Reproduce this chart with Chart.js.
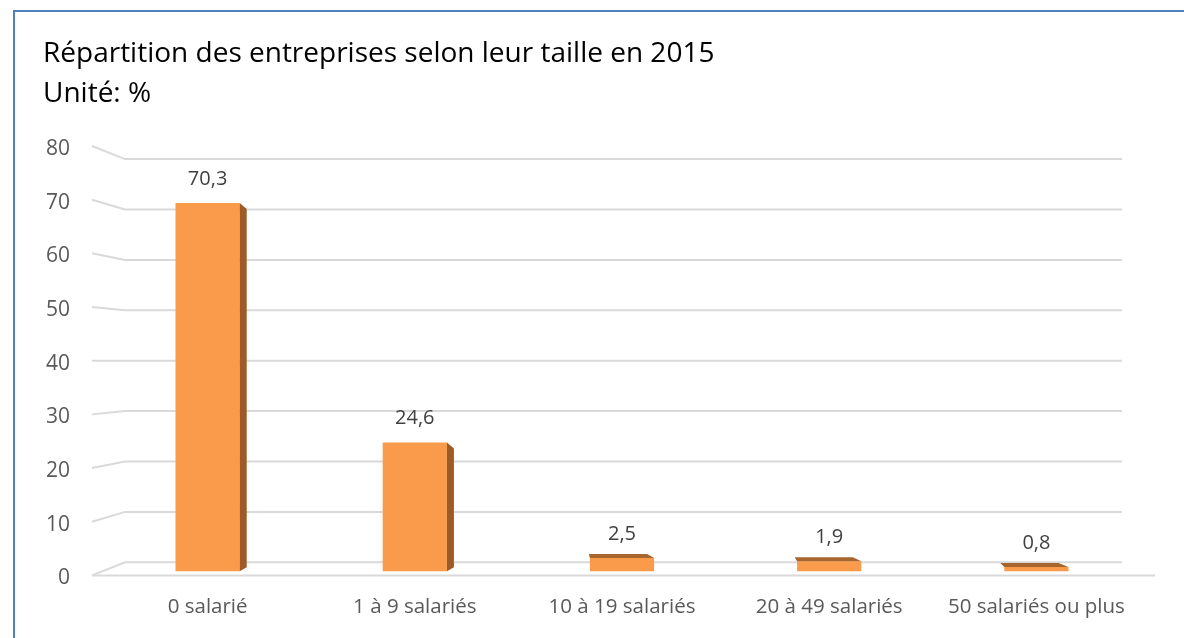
<!DOCTYPE html>
<html>
<head>
<meta charset="utf-8">
<script src="https://cdn.jsdelivr.net/npm/chart.js@4/dist/chart.umd.min.js"></script>
<style>
  html, body { margin: 0; padding: 0; background: #fff; }
  #wrap { position: relative; width: 1184px; height: 638px; overflow: hidden; }
  #frame { position: absolute; left: 13px; top: 10px; width: 1300px; height: 800px; border: 2px solid #4F81BD; box-sizing: border-box; }
  canvas { position: absolute; left: 0; top: 0; }
</style>
</head>
<body>
<div id="wrap">
  <div id="frame"></div>
  <canvas id="c" width="1184" height="638"></canvas>
</div>
<script>
const titleLines = ['Répartition des entreprises selon leur taille en 2015', 'Unité: %'];
const categories = ['0 salarié', '1 à 9 salariés', '10 à 19 salariés', '20 à 49 salariés', '50 salariés ou plus'];
const values = [70.3, 24.6, 2.5, 1.9, 0.8];
const yTicks = [0, 10, 20, 30, 40, 50, 60, 70, 80];

const FONT = "'Open Sans', 'Noto Sans', sans-serif";

const threeD = {
  id: 'threeD',
  beforeDatasetsDraw(chart) {
    const ctx = chart.ctx, y = chart.scales.y, a = chart.chartArea;
    const eye = y.getPixelForValue(40);
    const k = 0.939;
    ctx.save();
    ctx.strokeStyle = '#D9D9D9';
    ctx.lineWidth = 2;
    yTicks.forEach(v => {
      const front = y.getPixelForValue(v);
      const back = eye + (front - eye) * k;
      ctx.beginPath();
      ctx.moveTo(a.left - 12, front);
      ctx.lineTo(a.left + 21, back);
      ctx.lineTo(a.right - 18, back);
      ctx.stroke();
    });
    const p0 = y.getPixelForValue(0);
    ctx.beginPath();
    ctx.moveTo(a.left - 12, p0);
    ctx.lineTo(a.right + 15, p0);
    ctx.stroke();
    ctx.restore();
  },
  afterDatasetsDraw(chart) {
    const ctx = chart.ctx, meta = chart.getDatasetMeta(0);
    ctx.save();
    meta.data.forEach((bar, i) => {
      const half = bar.width / 2;
      const l = bar.x - half, r = bar.x + half, t = bar.y, b = bar.base;
      if (values[i] > 10) {
        ctx.fillStyle = '#9C5B27';
        ctx.beginPath();
        ctx.moveTo(r, t);
        ctx.lineTo(r + 7, t + 6);
        ctx.lineTo(r + 7, b - 4);
        ctx.lineTo(r, b);
        ctx.closePath();
        ctx.fill();
      } else {
        ctx.fillStyle = '#A8652E';
        ctx.beginPath();
        ctx.moveTo(l, t);
        ctx.lineTo(l + 2 - i * 1.5, t - 4);
        ctx.lineTo(r - 4 - i * 1.5, t - 4);
        ctx.lineTo(r, t);
        ctx.closePath();
        ctx.fill();
      }
      ctx.fillStyle = '#404040';
      ctx.font = '20px ' + FONT;
      ctx.textAlign = 'center';
      ctx.textBaseline = 'middle';
      ctx.fillText(values[i].toString().replace('.', ','), bar.x, t - 24);
    });
    ctx.restore();
  }
};

new Chart(document.getElementById('c'), {
  type: 'bar',
  data: {
    labels: categories,
    datasets: [{
      data: values,
      yAxisID: 'yBar',
      backgroundColor: '#FA9B4B',
      borderWidth: 0,
      categoryPercentage: 1,
      barPercentage: 0.31
    }]
  },
  options: {
    responsive: false,
    animation: false,
    devicePixelRatio: 1,
    layout: { padding: { left: 43, right: 44, top: 0, bottom: 0 } },
    plugins: {
      legend: { display: false },
      tooltip: { enabled: false },
      title: {
        display: true,
        text: titleLines,
        align: 'start',
        color: '#000',
        font: { family: FONT, size: 28, weight: 'normal', lineHeight: 1.4286 },
        padding: { top: 34.5, bottom: 31.5 }
      }
    },
    scales: {
      x: {
        grid: { display: false, drawTicks: false },
        border: { display: false },
        ticks: { color: '#595959', font: { family: FONT, size: 20.5 }, padding: 19 }
      },
      y: {
        min: 0, max: 80,
        afterFit(s) { s.width = 61; },
        afterBuildTicks(s) { s.ticks = yTicks.map(v => ({ value: v })); },
        grid: { display: false, drawTicks: false },
        border: { display: false },
        ticks: { color: '#595959', font: { family: FONT, size: 21 }, padding: 34, labelOffset: 3 }
      },
      yBar: {
        display: false,
        min: -0.8, max: 81.2
      }
    }
  },
  plugins: [threeD]
});
</script>
</body>
</html>
